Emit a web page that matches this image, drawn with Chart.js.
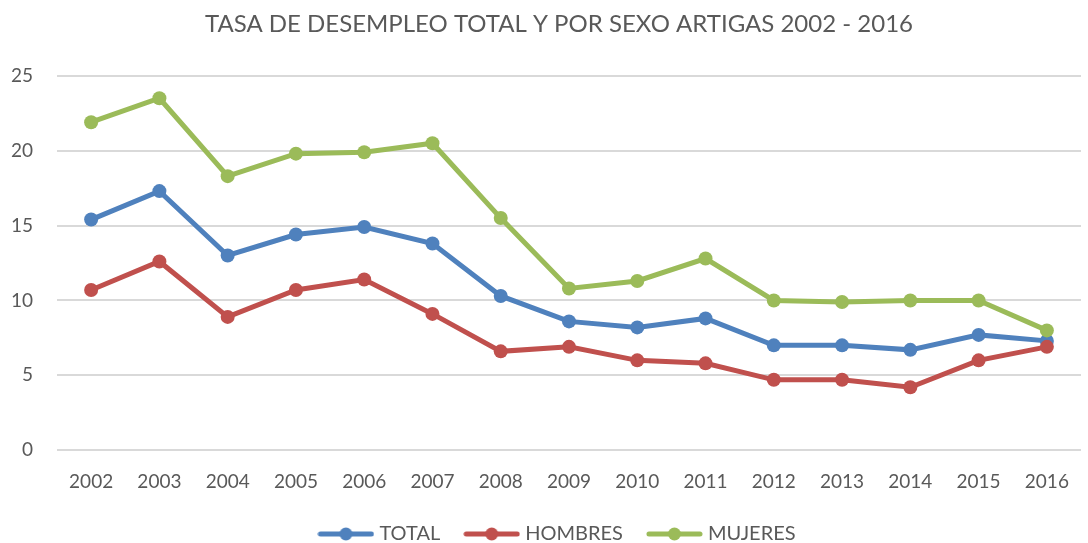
<!DOCTYPE html>
<html>
<head>
<meta charset="utf-8">
<script src="https://cdn.jsdelivr.net/npm/chart.js@4"></script>
<style>
  body { margin: 0; background: #fff; }
  #wrap { width: 1088px; height: 543px; }
</style>
</head>
<body>
<div id="wrap"><canvas id="chart" width="1088" height="543"></canvas></div>
<script>
// data
const years = ['2002','2003','2004','2005','2006','2007','2008','2009','2010','2011','2012','2013','2014','2015','2016'];
const total = [15.4, 17.3, 13.0, 14.4, 14.9, 13.8, 10.3, 8.6, 8.2, 8.8, 7.0, 7.0, 6.7, 7.7, 7.3];
const hombres = [10.7, 12.6, 8.9, 10.7, 11.4, 9.1, 6.6, 6.9, 6.0, 5.8, 4.7, 4.7, 4.2, 6.0, 6.9];
const mujeres = [21.9, 23.5, 18.3, 19.8, 19.9, 20.5, 15.5, 10.8, 11.3, 12.8, 10.0, 9.9, 10.0, 10.0, 8.0];

const FONT = 'Lato, "Liberation Sans", sans-serif';
const TEXT = '#595959';

// legend marker: a short line with a dot, like the office chart legend
function legendIcon(color) {
    const c = document.createElement('canvas');
    c.width = 57; c.height = 14;
    const g = c.getContext('2d');
    g.strokeStyle = color;
    g.lineWidth = 5;
    g.lineCap = 'round';
    g.beginPath();
    g.moveTo(3, 7);
    g.lineTo(54, 7);
    g.stroke();
    g.fillStyle = color;
    g.beginPath();
    g.arc(28.5, 7, 6.5, 0, Math.PI * 2);
    g.fill();
    return c;
}

function series(label, data, color, order) {
    return {
        label: label,
        data: data,
        borderColor: color,
        backgroundColor: color,
        borderWidth: 5,
        pointRadius: 7,
        pointHoverRadius: 7,
        pointBorderWidth: 0,
        tension: 0,
        order: order
    };
}

// title and legend sit a bit right of the canvas centre in the original
const nudgeBoxes = {
    id: 'nudgeBoxes',
    afterLayout(chart) {
        [chart.titleBlock, chart.legend].forEach(b => {
            if (b) { b.left += 15; b.right += 15; }
        });
    }
};

const ctx = document.getElementById('chart').getContext('2d');
new Chart(ctx, {
    type: 'line',
    data: {
        labels: years,
        datasets: [
            series('TOTAL', total, '#4F81BD', 3),
            series('HOMBRES', hombres, '#C0504D', 2),
            series('MUJERES', mujeres, '#9BBB59', 1)
        ]
    },
    options: {
        responsive: false,
        animation: false,
        layout: { padding: { left: 0, right: 0, top: 8, bottom: -11 } },
        plugins: {
            title: {
                display: true,
                text: 'TASA DE DESEMPLEO TOTAL Y POR SEXO ARTIGAS 2002 - 2016',
                color: TEXT,
                font: { family: FONT, size: 24, weight: 'normal' },
                padding: { top: 2, bottom: 37 }
            },
            legend: {
                position: 'bottom',
                labels: {
                    color: TEXT,
                    font: { family: FONT, size: 20 },
                    usePointStyle: true,
                    pointStyleWidth: 47,
                    padding: 28,
                    generateLabels: function(chart) {
                        return chart.data.datasets.map((ds, i) => ({
                            text: ds.label,
                            pointStyle: legendIcon(ds.borderColor),
                            fillStyle: ds.borderColor,
                            strokeStyle: ds.borderColor,
                            lineWidth: 0,
                            fontColor: TEXT,
                            datasetIndex: i
                        }));
                    }
                }
            },
            tooltip: { enabled: false }
        },
        scales: {
            x: {
                offset: true,
                grid: { display: false },
                border: { display: false },
                ticks: { color: TEXT, font: { family: FONT, size: 19 }, padding: 12, maxRotation: 0 },
                afterFit: function(scale) { scale.height -= 9; }
            },
            y: {
                min: 0,
                max: 25,
                grid: { color: '#D9D9D9', lineWidth: 2, drawTicks: false },
                border: { display: false },
                ticks: { stepSize: 5, color: TEXT, font: { family: FONT, size: 19 }, padding: 24 },
                afterFit: function(scale) { scale.width = 57; }
            }
        }
    },
    plugins: [nudgeBoxes]
});
</script>
</body>
</html>
